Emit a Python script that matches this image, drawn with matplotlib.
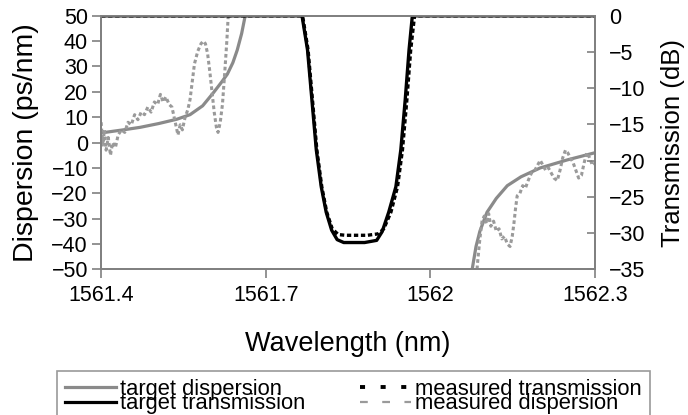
import matplotlib
matplotlib.use("Agg")
import matplotlib.pyplot as plt

plt.rcParams["font.family"] = ["Liberation Sans", "DejaVu Sans"]

# target dispersion (ps/nm), two branches around the notch
td_left_wl = [1561.400, 1561.440, 1561.471, 1561.505, 1561.538, 1561.562, 1561.585,
              1561.604, 1561.620, 1561.630, 1561.640, 1561.648, 1561.656, 1561.662, 1561.668]
td_left = [3.8, 5.0, 6.0, 7.5, 9.2, 11.0, 14.5, 19.5, 24.0, 27.0, 31.5, 36.5, 43.0, 49.5, 56.0]
td_right_wl = [1562.072, 1562.076, 1562.083, 1562.090, 1562.103, 1562.120, 1562.140,
               1562.165, 1562.200, 1562.250, 1562.300]
td_right = [-56.0, -50.0, -41.0, -35.0, -27.5, -22.0, -17.0, -13.5, -10.0, -6.8, -4.0]

# measured dispersion (ps/nm)
md_left_wl = [1561.400, 1561.403, 1561.406, 1561.409, 1561.413, 1561.417, 1561.421, 1561.426,
              1561.431, 1561.437, 1561.443, 1561.449, 1561.455, 1561.461, 1561.467, 1561.473,
              1561.479, 1561.485, 1561.491, 1561.497, 1561.503, 1561.508, 1561.513, 1561.518,
              1561.524, 1561.529, 1561.533, 1561.537, 1561.540, 1561.544, 1561.548, 1561.553,
              1561.558, 1561.562, 1561.566, 1561.570, 1561.576, 1561.582, 1561.586, 1561.590,
              1561.594, 1561.598, 1561.602, 1561.606, 1561.610, 1561.613, 1561.617, 1561.621,
              1561.625, 1561.629, 1561.632, 1561.635]
md_left = [8, -1, 5, -3, 2, -5, 0, -2, 3, 5, 4, 8, 7, 11, 9, 12,
           11, 14, 12, 16, 15, 19, 16, 18, 15, 14, 10, 6, 3, 7, 5, 10,
           13, 17, 24, 31, 36, 39, 40, 39, 35, 28, 20, 12, 6, 4, 8, 15,
           27, 40, 52, 60]
md_right_wl = [1562.083, 1562.086, 1562.090, 1562.094, 1562.098, 1562.102, 1562.106, 1562.110,
               1562.115, 1562.120, 1562.125, 1562.130, 1562.135, 1562.140, 1562.145, 1562.149,
               1562.152, 1562.155, 1562.158, 1562.163, 1562.168, 1562.173, 1562.178, 1562.184,
               1562.190, 1562.195, 1562.200, 1562.205, 1562.210, 1562.215, 1562.220, 1562.225,
               1562.231, 1562.236, 1562.241, 1562.246, 1562.250, 1562.255, 1562.260, 1562.265,
               1562.270, 1562.275, 1562.280, 1562.285, 1562.290, 1562.295, 1562.300]
md_right = [-55, -47, -38, -31, -29, -32, -28, -33, -31, -35, -34, -38, -37, -40, -41, -37,
            -32, -26, -21, -20, -17, -18, -15, -12, -11, -9, -7, -9, -11, -10, -12, -14,
            -15, -11, -6, -3, -4, -6, -8, -11, -14, -13, -8, -4, -6, -9, -8]

# transmission (dB)
tt_wl = [1561.400, 1561.766, 1561.776, 1561.784, 1561.792, 1561.801, 1561.810, 1561.820,
         1561.830, 1561.842, 1561.880, 1561.902, 1561.912, 1561.924, 1561.937, 1561.946,
         1561.954, 1561.961, 1561.967, 1562.300]
tt = [0, 0, -4.7, -11.6, -18.5, -23.6, -27.1, -29.6, -30.9, -31.3, -31.3, -31.0, -29.8,
      -27.1, -23.6, -18.5, -11.6, -4.7, 0, 0]
mt_wl = [1561.400, 1561.767, 1561.777, 1561.785, 1561.793, 1561.802, 1561.811, 1561.821,
         1561.832, 1561.845, 1561.885, 1561.905, 1561.915, 1561.928, 1561.940, 1561.949,
         1561.957, 1561.964, 1561.971, 1562.300]
mt = [0, 0, -4.7, -11.6, -18.5, -23.6, -27.1, -29.4, -30.2, -30.3, -30.3, -30.1, -29.4,
      -27.1, -23.6, -18.5, -11.6, -4.7, 0, 0]

spine_gray = "#808080"
disp_gray = "#8a8a8a"
meas_gray = "#9a9a9a"

fig = plt.figure(figsize=(6.88, 4.15), dpi=100)
ax = fig.add_axes([0.147, 0.351, 0.718, 0.611])
ax2 = ax.twinx()

ax.plot(td_left_wl, td_left, color=disp_gray, lw=2.3, solid_capstyle="butt")
ax.plot(td_right_wl, td_right, color=disp_gray, lw=2.3, solid_capstyle="butt")
ax.plot(md_left_wl, md_left, color=meas_gray, lw=2.2, dashes=(1.2, 0.9))
ax.plot(md_right_wl, md_right, color=meas_gray, lw=2.2, dashes=(1.2, 0.9))

ax2.plot(tt_wl, tt, color="black", lw=2.4)
ax2.plot(mt_wl, mt, color="black", lw=2.4, dashes=(1.3, 0.8))

ax.set_xlim(1561.4, 1562.3)
ax.set_ylim(-50, 50)
ax2.set_ylim(-35, 0)
ax.set_xticks([1561.4, 1561.7, 1562.0, 1562.3])
ax.set_xticklabels(["1561.4", "1561.7", "1562", "1562.3"])
ax.set_yticks(range(-50, 51, 10))
ax2.set_yticks(range(-35, 1, 5))

for a in (ax, ax2):
    for s in a.spines.values():
        s.set_color(spine_gray)
        s.set_linewidth(1.3)
ax.tick_params(axis="both", direction="out", length=6.5, width=1.2, color=spine_gray,
               labelsize=15.5)
ax.tick_params(axis="x", pad=5)
ax.tick_params(axis="y", pad=3)
ax2.tick_params(axis="y", direction="in", length=6, width=1.2, color=spine_gray,
                labelsize=15.5, pad=10)

ax.set_xlabel("Wavelength (nm)", fontsize=19.5, labelpad=18)
ax.set_ylabel("Dispersion (ps/nm)", fontsize=20.5, labelpad=9)
ax2.set_ylabel("Transmission (dB)", fontsize=18.5, labelpad=11)

h1, = ax.plot([], [], color=disp_gray, lw=2.3)
h2, = ax.plot([], [], color="black", lw=2.3)
h3, = ax.plot([], [], color="black", lw=2.8, dashes=(1.3, 4.0))
h4, = ax.plot([], [], color=meas_gray, lw=1.6, dashes=(3.5, 6.5))
leg = fig.legend([h1, h2, h3, h4],
                 ["target dispersion", "target transmission",
                  "measured transmission", "measured dispersion"],
                 ncol=2, loc="upper left", bbox_to_anchor=(0.083, 0.107),
                 fontsize=15.8, frameon=True, fancybox=False,
                 handlelength=2.3, handletextpad=0.2, columnspacing=2.5,
                 labelspacing=-0.3, borderpad=0.38, borderaxespad=0)
leg.get_frame().set_edgecolor(spine_gray)
leg.get_frame().set_linewidth(1.2)

fig.savefig("out.png", dpi=100)
